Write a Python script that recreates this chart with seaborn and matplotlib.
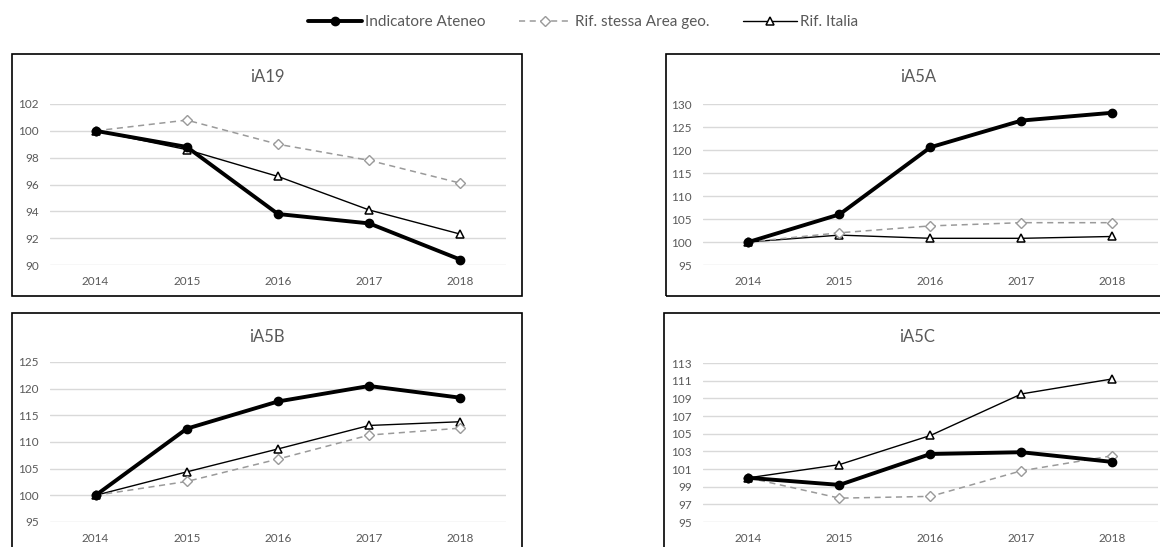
import matplotlib
matplotlib.use("Agg")
import matplotlib.pyplot as plt
from matplotlib.lines import Line2D
from matplotlib.patches import Rectangle
import seaborn as sns
import pandas as pd

years = [2014, 2015, 2016, 2017, 2018]
series_names = ["Indicatore Ateneo", "Rif. stessa Area geo.", "Rif. Italia"]

iA19_ateneo = [100, 98.8, 93.8, 93.1, 90.4]
iA19_area = [100, 100.8, 99.0, 97.8, 96.1]
iA19_italia = [100, 98.6, 96.6, 94.1, 92.3]

iA5A_ateneo = [100, 106.0, 120.6, 126.4, 128.1]
iA5A_area = [100, 102.0, 103.5, 104.2, 104.2]
iA5A_italia = [100, 101.5, 100.8, 100.8, 101.2]

iA5B_ateneo = [100, 112.5, 117.6, 120.5, 118.3]
iA5B_area = [100, 102.6, 106.8, 111.3, 112.6]
iA5B_italia = [100, 104.4, 108.7, 113.1, 113.8]

iA5C_ateneo = [100, 99.2, 102.7, 102.9, 101.8]
iA5C_area = [100, 97.7, 97.9, 100.8, 102.5]
iA5C_italia = [100, 101.5, 104.8, 109.5, 111.2]

panel_titles = ["iA19", "iA5A", "iA5B", "iA5C"]
yticks_iA19 = [90, 92, 94, 96, 98, 100, 102]
yticks_iA5A = [95, 100, 105, 110, 115, 120, 125, 130]
yticks_iA5B = [95, 100, 105, 110, 115, 120, 125]
yticks_iA5C = [95, 97, 99, 101, 103, 105, 107, 109, 111, 113]

panels = [
    (iA19_ateneo, iA19_area, iA19_italia, yticks_iA19),
    (iA5A_ateneo, iA5A_area, iA5A_italia, yticks_iA5A),
    (iA5B_ateneo, iA5B_area, iA5B_italia, yticks_iA5B),
    (iA5C_ateneo, iA5C_area, iA5C_italia, yticks_iA5C),
]

sns.set_theme(style="white")
plt.rcParams["font.family"] = ["Lato", "DejaVu Sans"]

W, H = 1160, 547
fig = plt.figure(figsize=(W / 100, H / 100), dpi=100)

TXT = "#595959"
GRID = "#d9d9d9"

# pixel layout: (axes left, right, top, bottom), (box left, right, top, bottom), title y
layout = [
    ((50, 506, 104, 265), (12, 522, 54, 296), 77),
    ((703, 1158, 104, 265), (666, 1170, 54, 296), 77),
    ((50, 506, 362, 522), (12, 522, 313, 560), 337),
    ((703, 1158, 363, 522), (664, 1170, 313, 560), 337),
]

styles = {
    "Indicatore Ateneo": dict(color="black", lw=2.8, ls="-", marker="o", ms=6,
                              mfc="black", mec="black", mew=1),
    "Rif. stessa Area geo.": dict(color="#9a9a9a", lw=1.1, ls=(0, (4, 3)), marker="D", ms=5.5,
                                  mfc="white", mec="#9a9a9a", mew=1),
    "Rif. Italia": dict(color="black", lw=1.0, ls="-", marker="^", ms=6,
                        mfc="white", mec="black", mew=1.1),
}

for i, (ate, area, ita, yt) in enumerate(panels):
    (al, ar, at, ab), (bl, br, bt, bb), ty = layout[i]
    fig.patches.append(Rectangle((bl / W, 1 - bb / H), (br - bl) / W, (bb - bt) / H,
                                 transform=fig.transFigure, fill=False,
                                 edgecolor="black", lw=1.2, zorder=0))
    ax = fig.add_axes([al / W, 1 - ab / H, (ar - al) / W, (ab - at) / H])
    df = pd.DataFrame({
        "anno": years * 3,
        "valore": ate + area + ita,
        "serie": [series_names[0]] * 5 + [series_names[1]] * 5 + [series_names[2]] * 5,
    })
    for name in [series_names[2], series_names[1], series_names[0]]:
        st = styles[name]
        sns.lineplot(data=df[df["serie"] == name], x="anno", y="valore", ax=ax,
                     color=st["color"], linewidth=st["lw"], linestyle=st["ls"],
                     marker=st["marker"], markersize=st["ms"],
                     markerfacecolor=st["mfc"], markeredgecolor=st["mec"],
                     markeredgewidth=st["mew"], legend=False, zorder=3)
    ax.set_xlim(years[0] - 0.5, years[-1] + 0.5)
    ax.set_ylim(yt[0], yt[-1])
    ax.set_xticks(years)
    ax.set_xticklabels([str(y) for y in years])
    ax.set_yticks(yt)
    ax.set_yticklabels([str(v) for v in yt])
    ax.set_xlabel("")
    ax.set_ylabel("")
    ax.tick_params(axis="both", length=0, labelsize=8.5, colors=TXT)
    ax.tick_params(axis="x", pad=8)
    ax.tick_params(axis="y", pad=8)
    for sp in ax.spines.values():
        sp.set_visible(False)
    ax.grid(axis="y", color=GRID, lw=1.0)
    ax.grid(axis="x", visible=False)
    ax.set_axisbelow(True)
    ax.patch.set_alpha(0)
    for ln in ax.lines:
        ln.set_clip_on(False)
    fig.text(((bl + br) / 2) / W, 1 - ty / H, panel_titles[i], ha="center", va="center",
             fontsize=12, color=TXT)

handles = []
for name in series_names:
    st = styles[name]
    handles.append(Line2D([0], [0], color=st["color"], lw=st["lw"], ls=st["ls"],
                          marker=st["marker"], ms=st["ms"], mfc=st["mfc"],
                          mec=st["mec"], mew=st["mew"]))
leg = fig.legend(handles, series_names, loc="center", bbox_to_anchor=(583 / W, 1 - 22 / H),
                 ncol=3, frameon=False, fontsize=11, handlelength=3.5, handletextpad=0.2,
                 columnspacing=2.2, labelcolor=TXT)

fig.savefig("out.png", dpi=100)
